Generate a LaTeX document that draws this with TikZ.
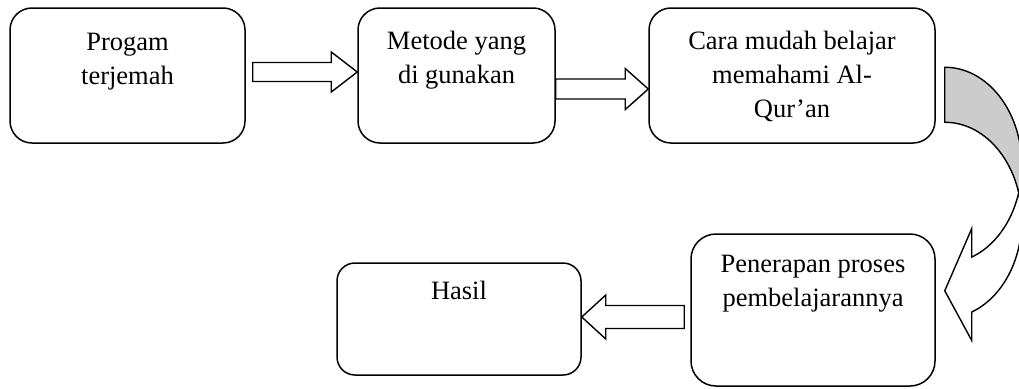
\documentclass[tikz,border=0pt]{standalone}
\usepackage{fontspec}
\setmainfont{Liberation Serif}
\usetikzlibrary{calc}
\tikzset{
  box/.style={draw, line width=1.5pt, rounded corners=#1, inner sep=0pt},
  box/.default=20pt,
  lbl/.style={align=center, inner sep=0pt, anchor=base, font=\fontsize{26.5}{34}\selectfont},
  blockarrow/.style={draw, line width=1.4pt, fill=white, line join=miter},
  darkside/.style={fill=black!20},
  bandline/.style={draw, line width=1.4pt, line join=miter},
  ell/.style={x radius=77, y radius=98},
}
% #1 start, #2 tip, #3 shaft half width, #4 head half width, #5 head length (signed)
\newcommand{\harrow}[5]{%
  \draw[blockarrow] let \p1=(#1), \p2=(#2) in
    ({\x1},{\y2+#3pt}) -- ({\x2-(#5pt)},{\y2+#3pt}) -- ({\x2-(#5pt)},{\y2+#4pt}) -- (\x2,\y2)
    -- ({\x2-(#5pt)},{\y2-#4pt}) -- ({\x2-(#5pt)},{\y2-#3pt}) -- ({\x1},{\y2-#3pt}) -- cycle;}
\begin{document}
\begin{tikzpicture}[x=1pt,y=-1pt]
\useasboundingbox (0,0) rectangle (1019,388);
\clip (0,0) rectangle (1019,388);
\fill[white] (0,0) rectangle (1019,388);

% boxes
\node[box=22pt, minimum width=235pt, minimum height=135pt] (b1) at (127.5,75.5) {};
\node[box=22pt, minimum width=197pt, minimum height=135pt] (b2) at (456.5,75.5) {};
\node[box=22pt, minimum width=286pt, minimum height=135pt] (b3) at (792,75.5) {};
\node[box=25pt, minimum width=244pt, minimum height=152pt] (b4) at (813,310) {};
\node[box=18pt, minimum width=244pt, minimum height=112pt] (b5) at (459,319) {};

% texts (anchor = baseline of the last line)
\node[lbl] (t1) at ($(b1.north)+(0,77)$) {Progam\\terjemah};
\node[lbl] (t2) at ($(b2.north)+(0,76)$) {Metode yang\\di gunakan};
\node[lbl] (t3) at ($(b3.north)+(0,110)$) {Cara mudah belajar\\memahami Al-\\Qur’an};
\node[lbl] (t4) at ($(b4.north)+(0,73)$) {Penerapan proses\\pembelajarannya};
\node[lbl] (t5) at ($(b5.north)+(0,37)$) {Hasil};

% straight block arrows
\coordinate (a1s) at ($(b1.east)+(7,0)$);
\coordinate (a1t) at ($(b2.west)+(0,-3.5)$);
\coordinate (a2t) at ($(b3.west)+(0,13.5)$);
\coordinate (a3s) at ($(b4.west)+(-6,0)$);
\coordinate (a3t) at ($(b5.east)+(0,-2)$);
\harrow{a1s}{a1t}{9.5}{20}{26}
\harrow{b2.east}{a2t}{10}{20.5}{23}
\harrow{a3s}{a3t}{11.5}{22}{-24}

% curved block arrow from b3 to b4
\coordinate (cl) at ($(b3.north east)+(9,60)$);
\begin{scope}[shift={(cl)}]
  \fill[white] (0,223.5) -- (27,161.3) -- (27,189.8)
     arc[ell, start angle=69.47, end angle=16.30]
     arc[ell, start angle=-16.30, end angle=69.47] -- (27,273.3) -- cycle;
  \fill[darkside] (0,0) arc[ell, start angle=-90, end angle=0] -- (77,153)
     arc[ell, start angle=0, end angle=-90] -- cycle;
  \path[bandline] (77,153) arc[ell, start angle=0, end angle=-90] -- (0,0)
     arc[ell, start angle=-90, end angle=0] -- (77,153)
     arc[ell, start angle=0, end angle=69.47] -- (27,273.3) -- (0,223.5)
     -- (27,161.3) -- (27,189.8) arc[ell, start angle=69.47, end angle=0];
\end{scope}
\end{tikzpicture}
\end{document}
